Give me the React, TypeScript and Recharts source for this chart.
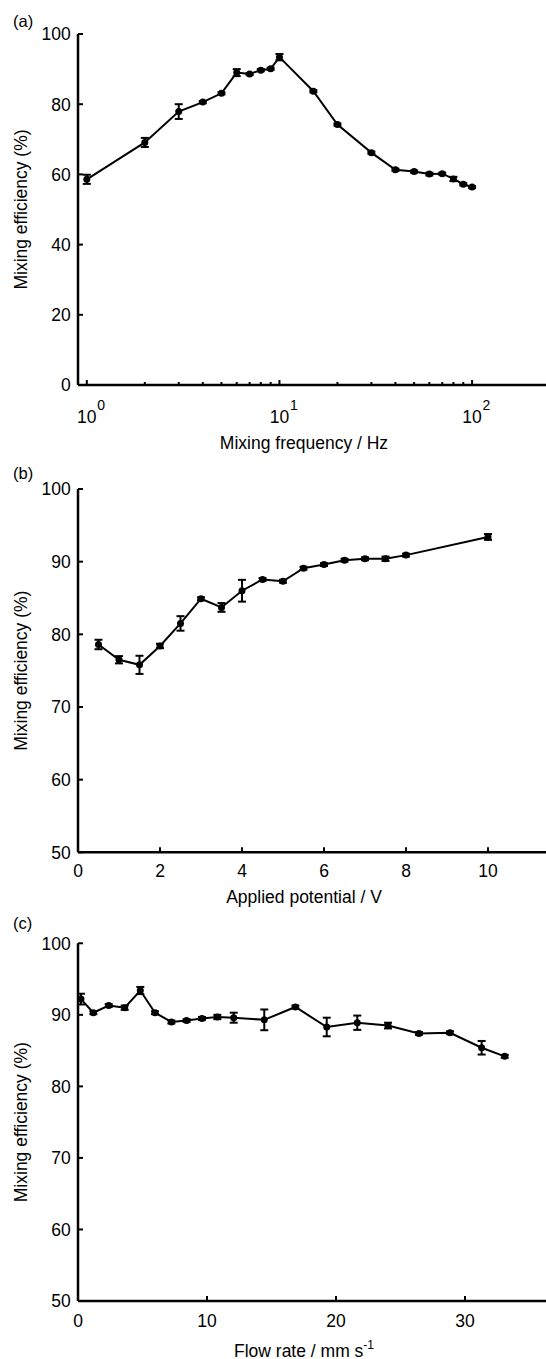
import { LineChart, Line, XAxis, YAxis, ErrorBar } from "recharts"

// (a) mixing frequency sweep
const freqHz = [1, 2, 3, 4, 5, 6, 7, 8, 9, 10, 15, 20, 30, 40, 50, 60, 70, 80, 90, 100]
const effFreq = [58.6, 69.1, 77.9, 80.6, 83.1, 89.0, 88.6, 89.7, 90.1, 93.4, 83.7, 74.2, 66.2, 61.3, 60.8, 60.1, 60.2, 58.7, 57.2, 56.4]
const errFreq = [1.3, 1.3, 2.1, 0.3, 0.3, 1.0, 0.3, 0.3, 0.3, 0.9, 0.3, 0.3, 0.3, 0.3, 0.3, 0.4, 0.3, 0.6, 0.3, 0.3]
const freqTicks = [1, 2, 3, 4, 5, 6, 7, 8, 9, 10, 20, 30, 40, 50, 60, 70, 80, 90, 100]
const effTicksA = [0, 20, 40, 60, 80, 100]

// (b) applied potential sweep
const potentialV = [0.5, 1, 1.5, 2, 2.5, 3, 3.5, 4, 4.5, 5, 5.5, 6, 6.5, 7, 7.5, 8, 10]
const effPot = [78.6, 76.5, 75.8, 78.4, 81.5, 84.9, 83.7, 86.0, 87.55, 87.3, 89.1, 89.6, 90.2, 90.4, 90.4, 90.9, 93.4]
const errPot = [0.65, 0.5, 1.25, 0.3, 1.0, 0.2, 0.6, 1.5, 0.2, 0.2, 0.2, 0.2, 0.2, 0.2, 0.3, 0.2, 0.4]
const potTicks = [0, 2, 4, 6, 8, 10]

// (c) flow rate sweep
const flowRate = [0.23, 1.19, 2.38, 3.62, 4.83, 5.97, 7.24, 8.42, 9.61, 10.8, 12.07, 14.44, 16.85, 19.28, 21.65, 24.03, 26.43, 28.84, 31.29, 33.08]
const effFlow = [92.2, 90.3, 91.3, 91.0, 93.4, 90.3, 89.0, 89.2, 89.5, 89.7, 89.6, 89.3, 91.1, 88.3, 88.9, 88.5, 87.4, 87.5, 85.4, 84.2]
const errFlow = [0.75, 0.2, 0.2, 0.3, 0.5, 0.2, 0.2, 0.2, 0.2, 0.3, 0.7, 1.45, 0.2, 1.3, 1.0, 0.4, 0.2, 0.2, 0.95, 0.2]
const flowTicks = [0, 10, 20, 30]

const effTicksBC = [50, 60, 70, 80, 90, 100]

const FONT = "'Liberation Sans', Arial, Helvetica, sans-serif"
const INK = "#000"
const FS = 17.5
const TITLE_X = 304

const rows = (xs: number[], ys: number[], errs: number[]) =>
  xs.map((x, i) => ({ x, y: ys[i], err: errs[i] }))

const isDecade = (v: number) => {
  const e = Math.log10(v)
  return Math.abs(e - Math.round(e)) < 1e-9
}

function LeftTick(props: any) {
  const { x, y, payload } = props
  return (
    <g>
      <line x1={x} x2={x + 5} y1={y} y2={y} stroke={INK} strokeWidth={2} />
      <text x={x - 7.3} y={y + 6.3} textAnchor="end" fontSize={FS} fontFamily={FONT} fill={INK}>
        {payload.value}
      </text>
    </g>
  )
}

function BottomTick(props: any) {
  const { x, y, payload, baseline, log } = props
  const v = payload.value
  const major = !log || isDecade(v)
  return (
    <g>
      <line x1={x} x2={x} y1={y} y2={y - (major ? 5 : 3)} stroke={INK} strokeWidth={2} />
      {major && !log && (
        <text x={x} y={y + baseline} textAnchor="middle" fontSize={FS} fontFamily={FONT} fill={INK}>
          {v}
        </text>
      )}
      {major && log && (
        <g fontFamily={FONT} fill={INK}>
          <text x={x} y={y + baseline} textAnchor="middle" fontSize={FS}>10</text>
          <text x={x + 10.5} y={y + baseline - 12.5} fontSize={14}>{Math.round(Math.log10(v))}</text>
        </g>
      )}
    </g>
  )
}

function TopTick(props: any) {
  const { x, y, payload, log } = props
  const major = !log || isDecade(payload.value)
  return <line x1={x} x2={x} y1={y} y2={y + (major ? 5 : 3)} stroke={INK} strokeWidth={2} />
}

const yTitle = (props: any) => {
  const vb = props.viewBox
  const cy = vb.y + vb.height / 2
  return (
    <text x={27} y={cy} transform={`rotate(-90 27 ${cy})`} textAnchor="middle" fontSize={FS} fontFamily={FONT} fill={INK}>
      Mixing efficiency (%)
    </text>
  )
}

const xTitle = (dy: number, sup?: string, text?: string) => (props: any) => {
  const vb = props.viewBox
  return (
    <text x={TITLE_X} y={vb.y + dy} textAnchor="middle" fontSize={FS} fontFamily={FONT} fill={INK}>
      {text}
      {sup && (
        <tspan dy={-7.5} fontSize={12}>
          {sup}
        </tspan>
      )}
    </text>
  )
}

interface PanelProps {
  tag: string
  top: number
  width: number
  height: number
  marginTop: number
  xAxisHeight: number
  data: { x: number; y: number; err: number }[]
  xDomain: number[]
  xTicks: number[]
  yDomain: number[]
  yTicks: number[]
  log?: boolean
  tickBaseline: number
  titleBaseline: number
  title: string
  titleSup?: string
  tagTop: number
}

function Panel(p: PanelProps) {
  const axisLine = { stroke: INK, strokeWidth: 2.5 }
  const scale = p.log ? "log" : "linear"
  return (
    <div style={{ position: "absolute", left: 0, top: p.top }}>
      <div style={{ position: "absolute", left: 13, top: p.tagTop, fontSize: 16.5, lineHeight: "18px", fontFamily: FONT }}>
        {p.tag}
      </div>
      <LineChart width={p.width} height={p.height} data={p.data} margin={{ top: p.marginTop, right: 10, left: 0, bottom: 0 }}>
        <XAxis
          dataKey="x"
          type="number"
          scale={scale}
          domain={p.xDomain}
          allowDataOverflow
          ticks={p.xTicks}
          interval={0}
          height={p.xAxisHeight}
          axisLine={axisLine}
          tickLine={false}
          tickSize={0}
          tickMargin={0}
          tick={<BottomTick baseline={p.tickBaseline} log={p.log} />}
          label={xTitle(p.titleBaseline, p.titleSup, p.title)}
        />
        <XAxis
          xAxisId="top"
          orientation="top"
          dataKey="x"
          type="number"
          scale={scale}
          domain={p.xDomain}
          allowDataOverflow
          ticks={p.xTicks}
          interval={0}
          height={0}
          axisLine={axisLine}
          tickLine={false}
          tickSize={0}
          tickMargin={0}
          tick={<TopTick log={p.log} />}
        />
        <YAxis
          type="number"
          domain={p.yDomain}
          ticks={p.yTicks}
          interval={0}
          width={78}
          axisLine={axisLine}
          tickLine={false}
          tickSize={0}
          tickMargin={0}
          tick={<LeftTick />}
          label={yTitle}
        />
        <Line
          dataKey="y"
          stroke={INK}
          strokeWidth={2}
          dot={{ r: 3.5, fill: INK, stroke: INK, strokeWidth: 0 }}
          isAnimationActive={false}
        >
          <ErrorBar dataKey="err" direction="y" width={4} stroke={INK} strokeWidth={2} isAnimationActive={false} />
        </Line>
      </LineChart>
    </div>
  )
}

export default function App() {
  return (
    <div style={{ position: "absolute", left: 0, top: 0, width: 546, height: 1359, overflow: "hidden", background: "#fff" }}>
      <Panel
        tag="(a)"
        tagTop={12}
        top={0}
        width={574}
        height={460}
        marginTop={34}
        xAxisHeight={75}
        data={rows(freqHz, effFreq, errFreq)}
        xDomain={[0.9, 300]}
        xTicks={freqTicks}
        yDomain={[0, 100]}
        yTicks={effTicksA}
        log
        tickBaseline={37.5}
        titleBaseline={64}
        title="Mixing frequency / Hz"
      />
      <Panel
        tag="(b)"
        tagTop={14}
        top={450}
        width={580}
        height={460}
        marginTop={39}
        xAxisHeight={57.7}
        data={rows(potentialV, effPot, errPot)}
        xDomain={[0, 12]}
        xTicks={potTicks}
        yDomain={[50, 100]}
        yTicks={effTicksBC}
        tickBaseline={24.5}
        titleBaseline={51}
        title="Applied potential / V"
      />
      <Panel
        tag="(c)"
        tagTop={14}
        top={900}
        width={604}
        height={459}
        marginTop={43.3}
        xAxisHeight={58}
        data={rows(flowRate, effFlow, errFlow)}
        xDomain={[0, 40]}
        xTicks={flowTicks}
        yDomain={[50, 100]}
        yTicks={effTicksBC}
        tickBaseline={25.7}
        titleBaseline={55.5}
        title="Flow rate / mm s"
        titleSup="-1"
      />
    </div>
  )
}
